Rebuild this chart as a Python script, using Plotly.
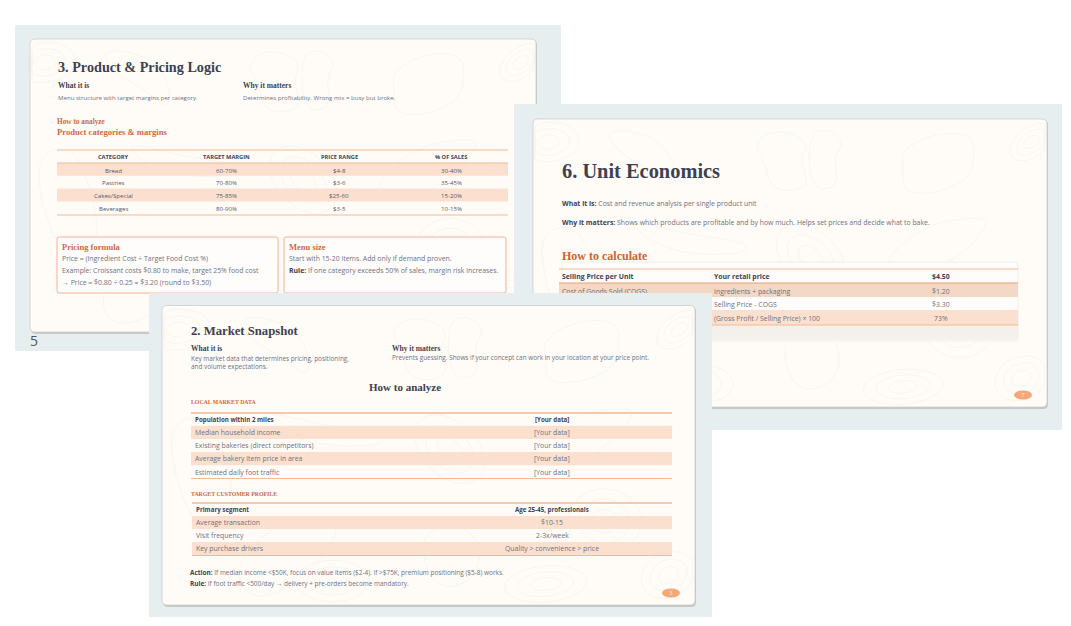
import numpy as np
import plotly.graph_objects as go

DARK = "#3d4152"


def lead(s):
    return '<span style="color:%s"><b>%s</b></span>' % (DARK, s)


# slide 3 table
pricing_head = ["CATEGORY", "TARGET MARGIN", "PRICE RANGE", "% OF SALES"]
pricing_cat = ["Bread", "Pastries", "Cakes/Special", "Beverages"]
pricing_margin = ["60-70%", "70-80%", "75-85%", "80-90%"]
pricing_range = ["$4-8", "$3-6", "$25-60", "$3-5"]
pricing_sales = ["30-40%", "35-45%", "15-20%", "10-15%"]

formula_lines = ["Price = (Ingredient Cost ÷ Target Food Cost %)",
                 "Example: Croissant costs $0.80 to make, target 25% food cost",
                 "→ Price = $0.80 ÷ 0.25 = $3.20 (round to $3.50)"]
menu_lines = ["Start with 15-20 items. Add only if demand proven.",
              lead("Rule:") + " If one category exceeds 50% of sales, margin risk increases."]

# slide 6 table
unit_label = ["<b>Selling Price per Unit</b>", "Cost of Goods Sold (COGS)"]
unit_how = ["<b>Your retail price</b>", "Ingredients + packaging", "Selling Price - COGS",
            "(Gross Profit / Selling Price) × 100"]
unit_value = ["<b>$4.50</b>", "$1.20", "$3.30", "73%"]

# slide 2 tables
market_label = ["<b>Population within 2 miles</b>", "Median household income",
                "Existing bakeries (direct competitors)", "Average bakery item price in area",
                "Estimated daily foot traffic"]
market_value = ["<b>[Your data]</b>", "[Your data]", "[Your data]", "[Your data]", "[Your data]"]
customer_label = ["<b>Primary segment</b>", "Average transaction", "Visit frequency", "Key purchase drivers"]
customer_value = ["<b>Age 25-45, professionals</b>", "$10-15", "2-3x/week", "Quality > convenience > price"]

BG = "#e6eef0"
PANEL = "#fffcf8"
BAND = "#fbe0cf"
LINE = "#f4b993"
GREY = "#6f7080"
ORANGE = "#cf6a3f"
SERIF = "Liberation Serif"
SANS = "Open Sans"
DOODLE = "#f6f2ec"

# outlines behind the slides, as fractions of a slide
doodles = [
    [(.43, .09), (.46, .04), (.51, .05), (.535, .09), (.52, .145), (.54, .24), (.465, .255), (.45, .145)],
    [(.535, .05), (.58, .035), (.605, .09), (.585, .13), (.595, .24), (.54, .245)],
    [(.716, .11), (.78, .05), (.85, .05), (.86, .11), (.85, .21), (.78, .26), (.72, .255), (.72, .17)],
    [(.14, .05), (.18, .035), (.25, .075), (.28, .18), (.27, .24), (.225, .17), (.17, .12)],
    [(.19, .35), (.30, .40), (.42, .43), (.41, .47), (.30, .47), (.22, .42)],
    [(.68, .49), (.77, .36), (.87, .34), (.89, .36), (.82, .50), (.71, .55)],
    [(.01, .40), (.08, .36), (.12, .50), (.14, .70), (.08, .78), (.03, .62)],
    [(.14, .84), (.24, .70), (.34, .72), (.30, .85), (.22, .97), (.15, .97)],
    [(.48, .78), (.54, .72), (.60, .78), (.59, .92), (.51, .95)],
]
swirls = [(.03, .08, .06, .07, .3), (.54, .48, .06, .12, -.3), (.72, .93, .08, .06, -.3),
          (.83, .72, .07, .11, 0), (.97, .08, .035, .07, .4), (.95, .90, .05, .08, .2),
          (.32, .92, .07, .07, -.3)]


def smooth(points):
    pts = list(points) + [points[0], points[1]]
    mids = [((a[0] + b[0]) / 2, (a[1] + b[1]) / 2) for a, b in zip(pts[:-1], pts[1:])]
    d = "M %.1f %.1f" % mids[0]
    for ctrl, end in zip(pts[1:-1], mids[1:]):
        d += " Q %.1f %.1f %.1f %.1f" % (ctrl[0], ctrl[1], end[0], end[1])
    return d


def rounded(x0, y0, x1, y1, r):
    return (f"M {x0 + r} {y0} L {x1 - r} {y0} Q {x1} {y0} {x1} {y0 + r} L {x1} {y1 - r} Q {x1} {y1} {x1 - r} {y1} "
            f"L {x0 + r} {y1} Q {x0} {y1} {x0} {y1 - r} L {x0} {y0 + r} Q {x0} {y0} {x0 + r} {y0} Z")


shapes = []
notes = []


def box(x0, y0, x1, y1, fill):
    shapes.append(dict(type="rect", x0=x0, y0=y0, x1=x1, y1=y1, fillcolor=fill, line_width=0))


def hline(x0, x1, y, color=LINE, width=1):
    shapes.append(dict(type="line", x0=x0, x1=x1, y0=y, y1=y, line=dict(color=color, width=width)))


def text(x, y, s, size=6, color=GREY, font=SANS, anchor="left"):
    notes.append(dict(x=x, y=y, text=s, showarrow=False, xanchor=anchor, yanchor="middle", borderpad=0, borderwidth=0,
                      font=dict(size=size, color=color, family=font), align="left"))


def slide(bx0, by0, bx1, by1, px0, py0, px1, py1):
    box(bx0, by0, bx1, by1, BG)
    shapes.append(dict(type="path", path=rounded(px0 + 1, py0 + 1, px1 + 1, py1 + 2, 5),
                       fillcolor="#c4c8c8", line_width=0))
    shapes.append(dict(type="path", path=rounded(px0, py0, px1, py1, 5), fillcolor=PANEL,
                       line=dict(color="#cfcdc9", width=0.8)))
    w, h = px1 - px0, py1 - py0
    for d in doodles:
        pts = [(px0 + a * w, py0 + b * h) for a, b in d]
        shapes.append(dict(type="path", path=smooth(pts), line=dict(color=DOODLE, width=0.8)))
    for cx, cy, rx, ry, ang in swirls:
        for k in (1, .68, .36):
            t = np.linspace(0, 2 * np.pi, 20)[:-1]
            ex, ey = rx * k * np.cos(t), ry * k * np.sin(t)
            xs = cx + ex * np.cos(ang) - ey * np.sin(ang)
            ys = cy + ex * np.sin(ang) + ey * np.cos(ang)
            pts = [(px0 + np.clip(a, .004, .996) * w, py0 + np.clip(b, .006, .994) * h) for a, b in zip(xs, ys)]
            shapes.append(dict(type="path", path=smooth(pts), line=dict(color=DOODLE, width=0.8)))


def badge(cx, cy, label):
    shapes.append(dict(type="circle", x0=cx - 9, x1=cx + 9, y0=cy - 4.5, y1=cy + 4.5, fillcolor="#f2a878", line_width=0))
    text(cx, cy, label, 6, "#fde9da", SANS, "center")


# slide 3
slide(15, 25, 561, 351, 30, 39, 536, 332)
text(58, 67, "<b>3. Product & Pricing Logic</b>", 14.2, DARK, SERIF)
text(58, 85, "<b>What it is</b>", 7.5, DARK, SERIF)
text(243, 85, "<b>Why it matters</b>", 7.5, DARK, SERIF)
text(58, 97, "Menu structure with target margins per category.", 6.1)
text(243, 97, "Determines profitability. Wrong mix = busy but broke.", 6.1)
text(57, 121, "<b>How to analyze</b>", 7.3, ORANGE, SERIF)
text(57, 132, "<b>Product categories & margins</b>", 8.6, ORANGE, SERIF)
hline(57, 508, 150)
for i in (0, 2):
    box(57, 163 + i * 12.8, 508, 175.8 + i * 12.8, BAND)
hline(57, 508, 163, width=1.2)
hline(57, 508, 215)
pricing_cols = [pricing_cat, pricing_margin, pricing_range, pricing_sales]
for head, col, cx in zip(pricing_head, pricing_cols, [113, 226, 339, 451]):
    text(cx, 157, "<b>%s</b>" % head, 5.7, DARK, SANS, "center")
    for i, s in enumerate(col):
        text(cx, 170 + i * 12.7, s, 6.1, "#55566a", SANS, "center")
for x0, x1 in ((57, 278), (284, 506)):
    shapes.append(dict(type="path", path=rounded(x0, 237, x1, 293, 2), fillcolor="#fffdfb",
                       line=dict(color="#f0a98c", width=0.9)))
text(62, 246.5, "<b>Pricing formula</b>", 8.5, ORANGE, SERIF)
text(289, 246.5, "<b>Menu size</b>", 8.5, ORANGE, SERIF)
for i, s in enumerate(formula_lines):
    text(62, 258.5 + i * 11.8, s, 6.9)
for i, s in enumerate(menu_lines):
    text(289, 258.5 + i * 11.8, s, 6.9)
text(30, 340, "5", 14, "#55585c")

# slide 6
slide(514, 104, 1062, 430, 533, 119, 1047, 407)
text(562, 171, "<b>6. Unit Economics</b>", 20.4, DARK, SERIF)
text(562, 203, lead("What it is:") + " Cost and revenue analysis per single product unit", 6.9)
text(562, 222, lead("Why it matters:") + " Shows which products are profitable and by how much. Helps set prices and decide what to bake.", 6.9)
text(562, 256, "<b>How to calculate</b>", 12, "#d2622a", SERIF)
shapes.append(dict(type="path", path=rounded(562, 262, 1018, 341, 3), fillcolor="#fffdfb",
                   line=dict(color="#f2eee8", width=1)))
box(559, 325, 1018, 340, "#f4f1ed")
box(559, 283, 1018, 297, "#f3d8c5")
box(559, 310, 1018, 325, BAND)
hline(559, 1018, 269)
hline(559, 1018, 283, "#eda272", 1.2)
hline(559, 1018, 325)
rows_y = [276, 291, 304, 318]
text(562, rows_y[0], unit_label[0], 6.9, DARK)
text(562, rows_y[1], unit_label[1], 6.9)
for y, a, b in zip(rows_y, unit_how, unit_value):
    text(714, y, a, 6.9, DARK if y == rows_y[0] else GREY)
    text(941, y, b, 6.9, DARK if y == rows_y[0] else GREY, SANS, "center")
badge(1023, 395, "7")

# slide 2
slide(149, 293, 712, 617, 162, 305.5, 695, 605)
# the front slide's margin hides the bottom of the COGS label
notes.append(dict(x=610, y=295.5, text=" ", showarrow=False, width=100, height=5, bgcolor=BG, borderpad=0, borderwidth=0))
text(191, 331, "<b>2. Market Snapshot</b>", 12.7, DARK, SERIF)
text(191, 348, "<b>What it is</b>", 7.5, DARK, SERIF)
text(392, 348, "<b>Why it matters</b>", 7.5, DARK, SERIF)
text(191, 358, "Key market data that determines pricing, positioning,", 6.4)
text(191, 366, "and volume expectations.", 6.4)
text(392, 357, "Prevents guessing. Shows if your concept can work in your location at your price point.", 6.4)
text(405, 387, "<b>How to analyze</b>", 11, DARK, SERIF, "center")
text(191, 402, "<b>LOCAL MARKET DATA</b>", 5.8, ORANGE, SERIF)
for i, (a, b) in enumerate(zip(market_label, market_value)):
    top = 412.5 + i * 13.2
    if i % 2:
        box(191, top, 672, top + 13.2, BAND)
    size = 6.2 if i == 0 else 6.9
    text(195, top + 6.7, a, size, DARK if i == 0 else GREY)
    text(552, top + 6.7, b, size, DARK if i == 0 else GREY, SANS, "center")
hline(191, 672, 413, width=1.3)
hline(191, 672, 478.5)
text(191, 494, "<b>TARGET CUSTOMER PROFILE</b>", 5.8, ORANGE, SERIF)
for i, (a, b) in enumerate(zip(customer_label, customer_value)):
    top = 503 + i * 13
    if i % 2:
        box(192, top, 672, top + 13, BAND)
    size = 6.2 if i == 0 else 6.9
    text(196, top + 6.8, a, size, DARK if i == 0 else GREY)
    text(552, top + 6.8, b, size, DARK if i == 0 else GREY, SANS, "center")
hline(192, 672, 503, width=1.3)
hline(192, 672, 555.5)
text(190, 572, lead("Action:") + " If median income <$50K, focus on value items ($2-4). If >$75K, premium positioning ($5-8) works.", 6.45)
text(190, 583, lead("Rule:") + " If foot traffic <500/day → delivery + pre-orders become mandatory.", 6.45)
badge(671, 593, "3")

fig = go.Figure()
fig.update_layout(width=1071, height=626, margin=dict(l=0, r=0, t=0, b=0), paper_bgcolor="white",
                  plot_bgcolor="white", shapes=shapes, annotations=notes, showlegend=False,
                  xaxis=dict(range=[0, 1071], visible=False, fixedrange=True),
                  yaxis=dict(range=[626, 0], visible=False, fixedrange=True))
fig.write_html("out.html", post_script="document.body.style.margin='0'", config=dict(displayModeBar=False))
